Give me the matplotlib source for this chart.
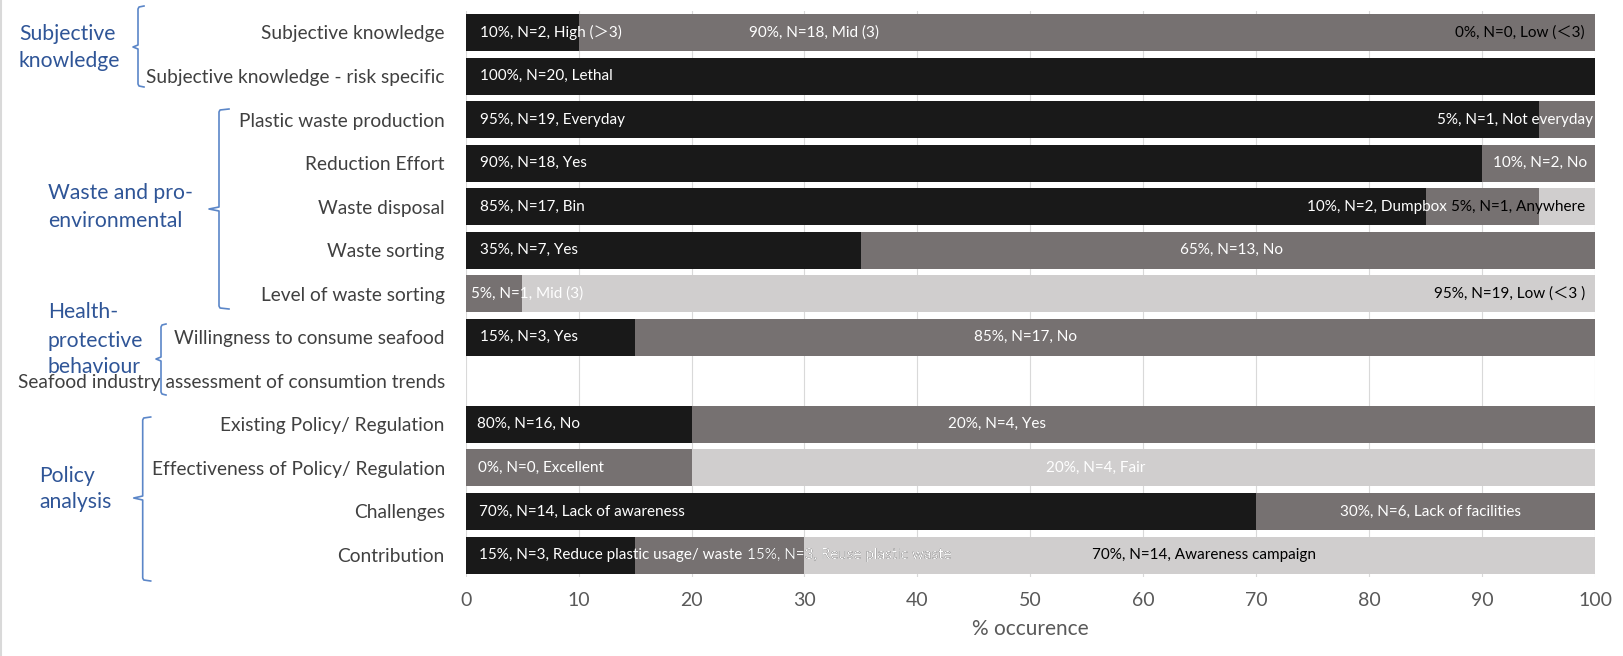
import matplotlib
matplotlib.use("Agg")
import matplotlib.pyplot as plt
from matplotlib.lines import Line2D
from matplotlib.transforms import Bbox, TransformedBbox

plt.rcParams['font.family'] = ['Lato', 'Noto Sans CJK SC', 'DejaVu Sans']

categories = ['Subjective knowledge', 'Subjective knowledge - risk specific',
              'Plastic waste production', 'Reduction Effort', 'Waste disposal',
              'Waste sorting', 'Level of waste sorting',
              'Willingness to consume seafood',
              'Seafood industry assessment of consumtion trends',
              'Existing Policy/ Regulation', 'Effectiveness of Policy/ Regulation',
              'Challenges', 'Contribution']

# segment widths as drawn (%)
seg_black = [10, 100, 95, 90, 85, 35, 0, 15, 0, 20, 0, 70, 15]
seg_dark = [90, 0, 5, 10, 10, 65, 5, 85, 0, 80, 20, 30, 15]
seg_light = [0, 0, 0, 0, 5, 0, 95, 0, 0, 0, 80, 0, 70]

xticks = [0, 10, 20, 30, 40, 50, 60, 70, 80, 90, 100]

# (row, x, text, ha, colour)
bar_labels = [
    (0, 1.25, '10%, N=2, High (＞3)', 'left', 'w'),
    (0, 30.8, '90%, N=18, Mid (3)', 'center', 'w'),
    (0, 99.1, '0%, N=0, Low (＜3)', 'right', 'k'),
    (1, 1.25, '100%, N=20, Lethal', 'left', 'w'),
    (2, 1.25, '95%, N=19, Everyday', 'left', 'w'),
    (2, 99.8, '5%, N=1, Not everyday', 'right', 'w'),
    (3, 1.25, '90%, N=18, Yes', 'left', 'w'),
    (3, 99.3, '10%, N=2, No', 'right', 'w'),
    (4, 1.25, '85%, N=17, Bin', 'left', 'w'),
    (4, 86.9, '10%, N=2, Dumpbox', 'right', 'w'),
    (4, 99.1, '5%, N=1, Anywhere', 'right', 'k'),
    (5, 1.25, '35%, N=7, Yes', 'left', 'w'),
    (5, 67.8, '65%, N=13, No', 'center', 'w'),
    (6, 0.45, '5%, N=1, Mid (3)', 'left', 'w'),
    (6, 99.1, '95%, N=19, Low (＜3 )', 'right', 'k'),
    (7, 1.25, '15%, N=3, Yes', 'left', 'w'),
    (7, 49.6, '85%, N=17, No', 'center', 'w'),
    (9, 1.0, '80%, N=16, No', 'left', 'w'),
    (9, 42.7, '20%, N=4, Yes', 'left', 'w'),
    (10, 1.1, '0%, N=0, Excellent', 'left', 'w'),
    (10, 55.8, '20%, N=4, Fair', 'center', 'w'),
    (11, 1.2, '70%, N=14, Lack of awareness', 'left', 'w'),
    (11, 85.4, '30%, N=6, Lack of facilities', 'center', 'w'),
    (12, 1.2, '15%, N=3, Reduce plastic usage/ waste', 'left', 'w'),
    (12, 65.4, '70%, N=14, Awareness campaign', 'center', 'k'),
]
# this one is black over the dark segment and white over the light one
split_label = (12, 24.9, '15%, N=3, Reuse plastic waste')

c_black = '#191919'
c_dark = '#767171'
c_light = '#d0cece'
c_blue = '#2f5597'
c_brace = '#5b86c8'
lab_fs = 11

W, H = 1624, 656
fig = plt.figure(figsize=(W / 100, H / 100), dpi=100)
ax = fig.add_axes([465.7 / W, 1 - 576.8 / H, (1595 - 465.7) / W, (576.8 - 10.7) / H])

y = list(range(len(categories)))
left_dark = [b for b in seg_black]
left_light = [b + d for b, d in zip(seg_black, seg_dark)]
bh = 0.85
bars_k = ax.barh(y, seg_black, height=bh, color=c_black, zorder=2)
bars_d = ax.barh(y, seg_dark, left=left_dark, height=bh, color=c_dark, zorder=2)
bars_l = ax.barh(y, seg_light, left=left_light, height=bh, color=c_light, zorder=2)

ax.set_xlim(0, 100)
ax.set_ylim(len(categories) - 0.5, -0.5)
ax.set_xticks(xticks)
ax.set_yticks(y, categories)
ax.tick_params(axis='y', length=0, pad=15, labelsize=13.8, labelcolor='#404040')
ax.tick_params(axis='x', length=0, pad=11, labelsize=14, labelcolor='#595959')
ax.grid(axis='x', color='#d9d9d9', linewidth=0.8, zorder=0)
ax.set_axisbelow(True)
for s in ax.spines.values():
    s.set_visible(False)
ax.set_xlabel('% occurence', fontsize=15, color='#595959', labelpad=7)

for r, x, t, ha, col in bar_labels:
    ax.text(x, r, t, ha=ha, va='center', color=col, fontsize=lab_fs, zorder=3)

r, x, t = split_label
for seg_left, seg_w, col in [(left_dark[r], seg_dark[r], 'k'),
                             (left_light[r], seg_light[r], 'w')]:
    box = TransformedBbox(Bbox.from_extents(seg_left, r - bh / 2, seg_left + seg_w, r + bh / 2),
                          ax.transData)
    ax.text(x, r, t, ha='left', va='center', color=col, fontsize=lab_fs, zorder=3,
            clip_box=box, clip_on=True)

# group labels, pixel positions (x, baseline y)
groups = [
    (19, [(40, 'Subjective'), (66.7, 'knowledge')]),
    (47.7, [(199.3, 'Waste and pro-'), (226.7, 'environmental')]),
    (47.7, [(318.3, 'Health-'), (346.7, 'protective'), (373.3, 'behaviour')]),
    (39.3, [(481.7, 'Policy'), (508.3, 'analysis')]),
]
for gx, lines in groups:
    for gy, txt in lines:
        fig.text(gx / W, 1 - gy / H, txt, ha='left', va='baseline',
                 color=c_blue, fontsize=15.2)

# braces: x, top, mid, bottom, hook, tick
braces = [(138, 6, 47, 87, 6, 5), (219, 109, 209, 309, 10, 10),
          (161, 324, 359, 395, 5, 5), (142.7, 417, 498, 581, 8, 9)]
for bx, top, mid, bot, hk, tk in braces:
    px = [bx + hk, bx + 1, bx, bx, bx - tk, bx, bx, bx + 1, bx + hk]
    py = [top, top + 1, top + 3, mid - 2, mid, mid + 2, bot - 3, bot - 1, bot]
    fig.add_artist(Line2D([p / W for p in px], [1 - q / H for q in py],
                          color=c_brace, linewidth=1.2))

fig.add_artist(Line2D([1.5 / W, 1.5 / W], [0, 1], color='#d9d9d9', linewidth=1.5))

fig.savefig('out.png', dpi=100)
